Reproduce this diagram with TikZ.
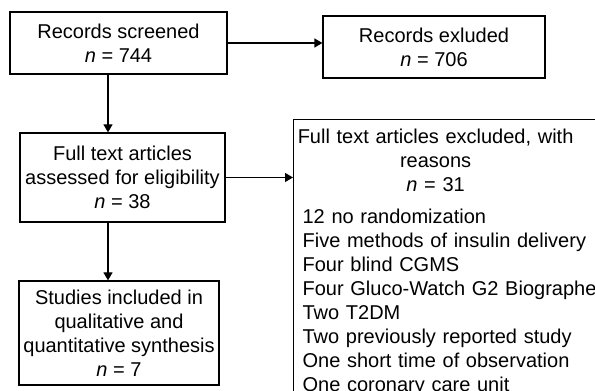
\documentclass[tikz,border=0pt]{standalone}
\usepackage{fontspec}
\setmainfont{Liberation Sans}
\usepackage{tikz}
\usetikzlibrary{arrows.meta}

\tikzset{
  box/.style={draw, line width=0.6pt, align=center, inner sep=2pt,
    font=\fontsize{10}{12}\selectfont},
  flow/.style={line width=0.6pt, -{Triangle[length=4pt,width=4.5pt]}}
}

\begin{document}
\begin{tikzpicture}
                    \useasboundingbox (0,0) rectangle (10.455700,6.870700);
                    \clip (0,0) rectangle (10.455700,6.870700);

                    % Drawing box records screened
                    \node (screened) [box, minimum width=3.813300cm, minimum height=1.089500cm] at (2.082300,6.115300) {Records screened\\\textit{n} = 744};%

                    % Drawing box records excluded
                    \node (excluded) [box, minimum width=3.901100cm, minimum height=1.089500cm] at (7.626500,6.045000) {Records exluded\\\textit{n} = 706};%

                    % Drawing box full text assessed
                    \node (assessed) [box, minimum width=3.602400cm, minimum height=1.564000cm] at (2.152600,3.751800) {Full text articles\\assessed for eligibility\\\textit{n} = 38};%

                    % Drawing box studies included
                    \node (included) [box, minimum width=3.514500cm, minimum height=1.827600cm] at (2.091100,1.019200) {Studies included in\\qualitative and\\quantitative synthesis\\\textit{n} = 7};%

                    % Drawing box full text excluded
                    \node (reasons) [box, anchor=north west, text width=160pt, inner sep=4.5pt, align=left] at (5.148800,4.779700)
                      {\makebox[133pt]{Full text articles excluded, with}\\
                       \makebox[133pt]{reasons}\\
                       \makebox[133pt]{\textit{n} = 31}\\[4pt]
                       12 no randomization\\
                       Five methods of insulin delivery\\
                       Four blind CGMS\\
                       Four Gluco-Watch G2 Biographer\\
                       Two T2DM\\
                       Two previously reported study\\
                       One short time of observation\\
                       One coronary care unit\\
                       \mbox{}};%

                    % Drawing the trunk
                    \coordinate (trunk) at (1.897800,0);
                    \draw [flow] (screened.south -| trunk) -- (assessed.north -| trunk);%
                    \draw [flow] (assessed.south -| trunk) -- (included.north -| trunk);%

                    % Drawing the side arrows
                    \draw [flow] (screened.east) -- (screened.east -| excluded.west);%
                    \draw [flow] (assessed.east) -- (assessed.east -| reasons.west);%
\end{tikzpicture}
\end{document}
